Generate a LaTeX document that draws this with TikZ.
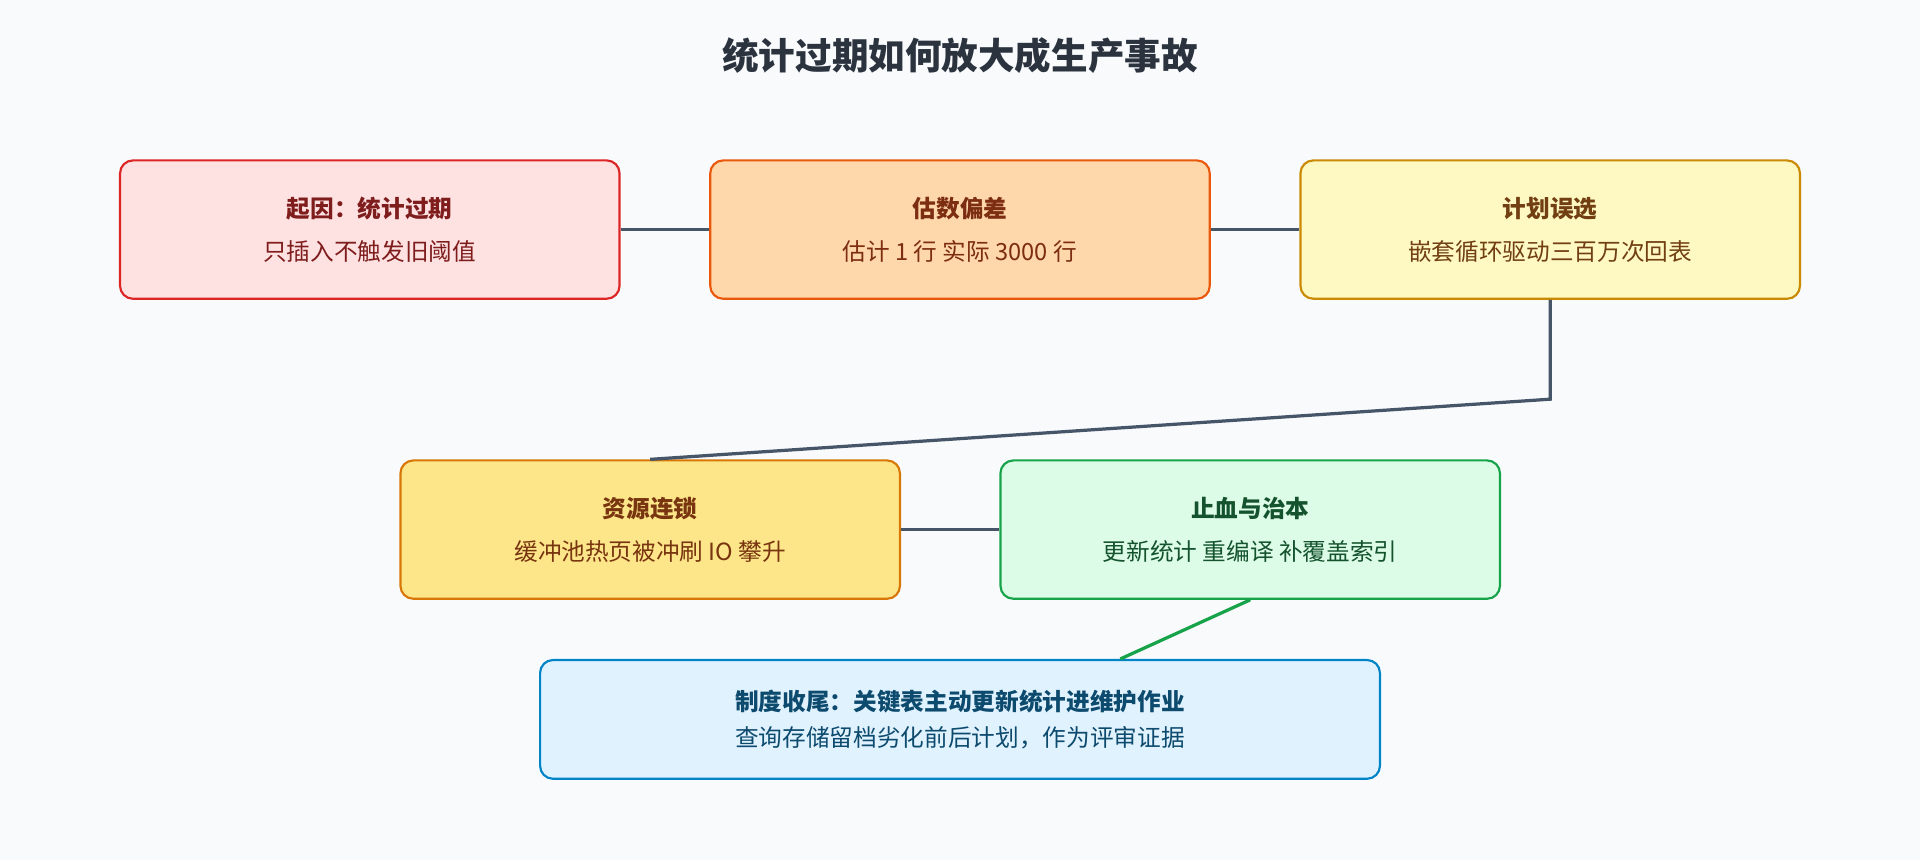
\documentclass[tikz,border=0pt]{standalone}
\usepackage{fontspec}
\setmainfont{Noto Sans CJK SC}
\usetikzlibrary{positioning}
\definecolor{bg}{HTML}{F8FAFC}
\definecolor{link}{HTML}{475569}
\definecolor{redD}{HTML}{DC2626}\definecolor{redF}{HTML}{FEE2E2}\definecolor{redT}{HTML}{7F1D1D}
\definecolor{oraD}{HTML}{EA580C}\definecolor{oraF}{HTML}{FED7AA}\definecolor{oraT}{HTML}{7C2D12}
\definecolor{yelD}{HTML}{CA8A04}\definecolor{yelF}{HTML}{FEF9C3}\definecolor{yelT}{HTML}{713F12}
\definecolor{ambD}{HTML}{D97706}\definecolor{ambF}{HTML}{FDE68A}\definecolor{ambT}{HTML}{78350F}
\definecolor{grnD}{HTML}{16A34A}\definecolor{grnF}{HTML}{DCFCE7}\definecolor{grnT}{HTML}{14532D}
\definecolor{bluD}{HTML}{0284C7}\definecolor{bluF}{HTML}{E0F2FE}\definecolor{bluT}{HTML}{0C4A6E}
\tikzset{
  step/.style n args={3}{draw=#1, fill=#2, text=#3, rounded corners=6pt, line width=1pt,
     minimum width=8.16cm, minimum height=2.26cm, align=center, font=\fontsize{11}{20}\selectfont},
  wire/.style={link, line width=1.5pt}
}
\begin{document}
\begin{tikzpicture}[x=0.02cm, y=-0.02cm]
\fill[bg] (0,0) rectangle (1568,702);
\node (title) at (784,45) {\fontsize{17}{20}\selectfont\bfseries\color{link!60!black}统计过期如何放大成生产事故};

\node (cause) [step={redD}{redF}{redT}] at (302,187.5) {\textbf{起因：统计过期}\\只插入不触发旧阈值};
\node (est) [step={oraD}{oraF}{oraT}] at (784,187.5) {\textbf{估数偏差}\\估计 1 行 实际 3000 行};
\node (plan) [step={yelD}{yelF}{yelT}] at (1266,187.5) {\textbf{计划误选}\\嵌套循环驱动三百万次回表};
\node (res) [step={ambD}{ambF}{ambT}] at (531,432.5) {\textbf{资源连锁}\\缓冲池热页被冲刷 IO 攀升};
\node (fix) [step={grnD}{grnF}{grnT}] at (1021,432.5) {\textbf{止血与治本}\\更新统计 重编译 补覆盖索引};
\node (rule) [step={bluD}{bluF}{bluT}, minimum width=13.72cm, minimum height=1.94cm,
   font=\fontsize{11}{17}\selectfont] at (784,587.5) {\textbf{制度收尾：关键表主动更新统计进维护作业}\\查询存储留档劣化前后计划，作为评审证据};

\coordinate (bend) at (1266,326);
\draw[wire] (cause) -- (est);
\draw[wire] (est) -- (plan);
\draw[wire] (plan.south) -- (bend) -- (res.north);
\draw[wire] (res) -- (fix);
\draw[wire, draw=grnD] (fix.south) -- ([xshift=2.62cm]rule.north);
\end{tikzpicture}
\end{document}
